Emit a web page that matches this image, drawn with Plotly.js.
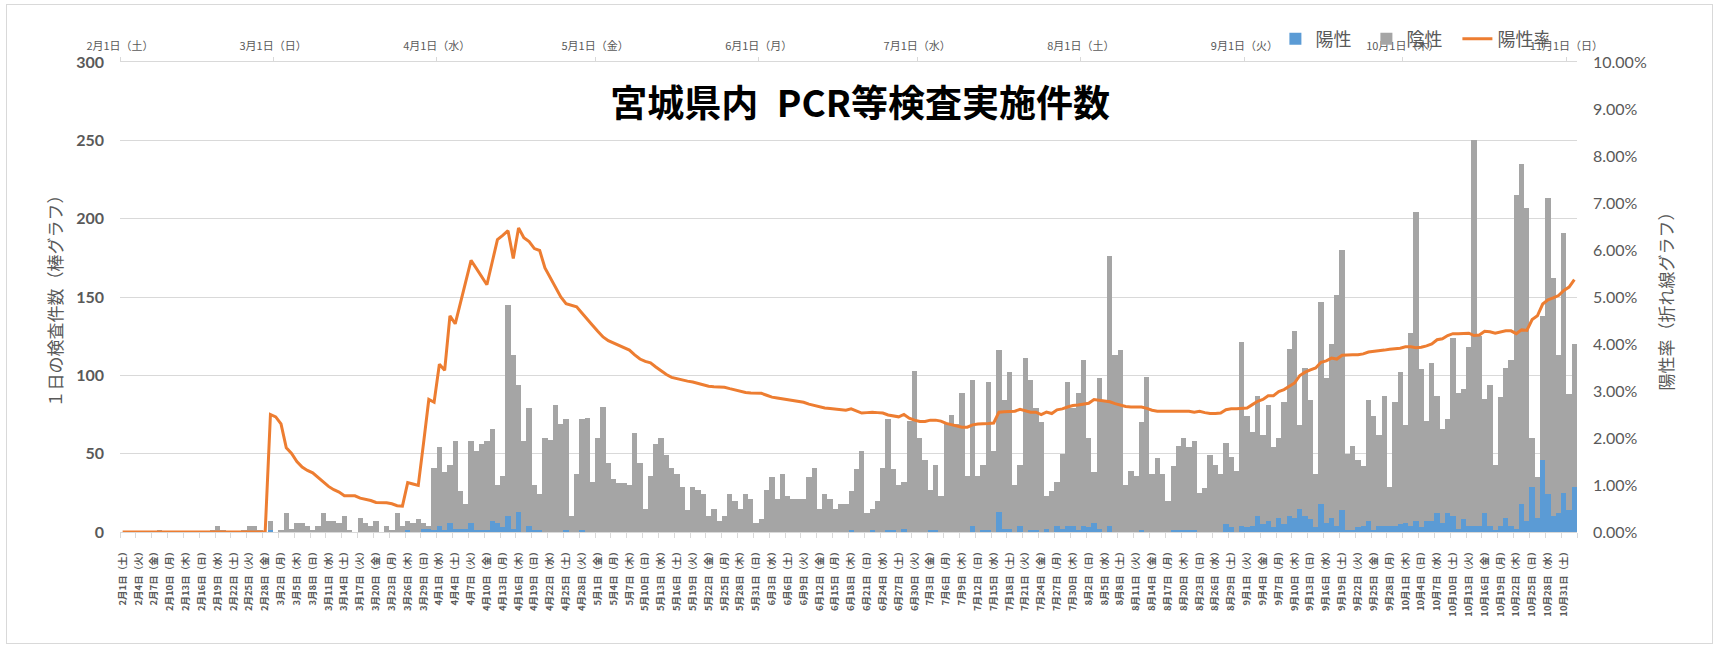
<!DOCTYPE html>
<html>
<head>
<meta charset="utf-8">
<script src="https://cdn.plot.ly/plotly-3.0.1.min.js"></script>
<style>
html,body{margin:0;padding:0;background:#fff;}
#chart{width:1718px;height:646px;position:absolute;left:0;top:0;}
#frame{position:absolute;left:6px;top:4px;width:1705px;height:638px;border:1px solid #d9d9d9;pointer-events:none;}
</style>
</head>
<body>
<div id="chart"></div>
<div id="frame"></div>
<script>
// ---- data (one value per day, 2020-02-01 .. 2020-11-02) ----
const startDate = [2020, 1, 1];   // year, month index, day
const dayCount = 276;

// 陽性 (positive tests per day)
const positives = [
  0,0,0,0,0,0,0,0,0,0,
  0,0,0,0,0,0,0,0,0,0,
  0,0,0,0,0,0,0,0,1,0,
  0,0,0,0,0,0,0,0,0,0,
  0,0,0,0,0,0,0,0,0,0,
  0,0,0,0,1,0,0,2,2,1,
  4,1,6,2,2,2,6,1,1,1,
  7,6,3,10,2,13,0,4,1,1,
  0,0,0,0,1,0,0,1,0,0,
  0,0,0,0,0,0,0,0,0,0,
  0,0,0,0,0,0,0,0,0,0,
  0,0,0,0,0,0,0,0,0,0,
  0,0,0,0,0,0,0,0,0,0,
  0,0,0,0,0,0,0,0,1,0,
  0,0,1,0,0,1,1,0,2,0,
  0,0,0,1,1,0,0,0,0,0,
  0,4,0,1,1,0,13,2,2,0,
  4,0,1,1,0,2,0,4,2,4,
  4,1,4,3,6,2,0,4,0,0,
  0,0,0,1,0,0,0,0,0,1,
  1,1,1,1,0,0,0,0,0,5,
  3,0,4,3,4,10,5,7,3,9,
  5,10,9,15,10,8,3,18,6,9,
  4,14,1,1,3,4,7,1,4,4,
  4,4,5,6,4,7,3,7,7,12,
  6,12,10,2,8,4,4,4,12,4,
  1,4,9,4,2,18,7,29,9,46,
  24,10,12,25,14,29
];

// 陰性 (negative tests per day)
const negatives = [
  0,0,0,0,0,0,0,1,0,0,
  0,0,0,0,0,0,0,1,4,1,
  0,0,0,1,4,4,1,0,6,0,
  1,12,2,6,6,4,1,4,12,7,
  7,6,10,1,0,9,6,4,7,0,
  4,1,12,4,6,6,8,4,2,40,
  50,37,37,56,24,16,52,51,55,57,
  59,24,33,135,111,81,58,75,29,23,
  60,59,81,69,71,10,37,71,73,32,
  60,80,44,34,31,31,30,63,44,15,
  36,56,60,49,41,37,29,14,29,27,
  24,10,15,7,10,24,20,15,24,21,
  6,8,27,35,21,37,23,21,21,21,
  35,41,15,24,21,15,18,18,25,40,
  52,12,14,20,41,71,39,30,30,71,
  103,60,46,26,42,23,69,75,69,89,
  36,93,36,42,95,52,103,82,100,30,
  39,111,96,78,70,21,26,28,48,92,
  75,88,106,57,32,96,84,172,113,116,
  30,39,36,69,99,37,47,37,20,41,
  54,59,53,57,25,28,49,43,37,52,
  45,39,117,71,60,77,57,74,51,51,
  78,107,119,53,95,76,34,129,92,111,
  147,166,49,54,43,38,77,73,58,83,
  25,79,97,62,123,197,101,64,101,75,
  60,60,114,87,83,114,246,121,73,90,
  42,82,96,106,213,217,200,31,26,92,
  189,152,101,166,74,91
];

// 陽性率 (cumulative positive rate, %)
const positiveRate = [
  0,0,0,0,0,0,0,0,0,0,
  0,0,0,0,0,0,0,0,0,0,
  0,0,0,0,0,0,0,0,2.50,2.45,
  2.30,1.79,1.67,1.50,1.38,1.31,1.26,1.16,1.06,0.97,
  0.90,0.85,0.77,0.77,0.77,0.72,0.70,0.67,0.63,0.63,
  0.62,0.60,0.56,0.55,1.05,1.02,0.99,1.89,2.82,2.76,
  3.57,3.44,4.60,4.43,4.89,5.33,5.78,5.61,5.44,5.26,
  5.74,6.22,6.31,6.41,5.82,6.47,6.26,6.18,6.03,5.99,
  5.62,5.42,5.23,5.00,4.86,4.83,4.79,4.66,4.52,4.40,
  4.27,4.15,4.07,4.02,3.97,3.91,3.87,3.77,3.68,3.63,
  3.60,3.51,3.42,3.35,3.29,3.26,3.23,3.21,3.19,3.16,
  3.12,3.10,3.09,3.08,3.08,3.05,3.02,3.00,2.97,2.96,
  2.96,2.95,2.91,2.87,2.85,2.83,2.81,2.79,2.77,2.76,
  2.72,2.69,2.66,2.64,2.63,2.62,2.60,2.59,2.62,2.57,
  2.53,2.54,2.55,2.54,2.53,2.49,2.47,2.45,2.50,2.42,
  2.38,2.35,2.35,2.38,2.38,2.36,2.31,2.28,2.25,2.23,
  2.23,2.28,2.30,2.30,2.31,2.32,2.55,2.56,2.56,2.57,
  2.61,2.58,2.55,2.55,2.50,2.55,2.52,2.60,2.62,2.66,
  2.69,2.70,2.72,2.74,2.82,2.80,2.78,2.77,2.73,2.70,
  2.67,2.66,2.66,2.66,2.63,2.59,2.57,2.57,2.57,2.57,
  2.57,2.57,2.57,2.55,2.57,2.54,2.52,2.52,2.53,2.60,
  2.62,2.62,2.63,2.64,2.71,2.78,2.82,2.90,2.90,2.99,
  3.03,3.10,3.17,3.33,3.40,3.45,3.49,3.61,3.64,3.70,
  3.68,3.76,3.77,3.77,3.77,3.79,3.83,3.84,3.86,3.87,
  3.89,3.90,3.91,3.94,3.94,3.92,3.93,3.96,4.00,4.09,
  4.11,4.18,4.22,4.22,4.23,4.23,4.18,4.19,4.27,4.26,
  4.23,4.25,4.28,4.28,4.22,4.30,4.29,4.52,4.60,4.85,
  4.94,4.98,5.03,5.14,5.21,5.37
];

// top axis: month starts
const monthStarts = ['2020-02-01','2020-03-01','2020-04-01','2020-05-01','2020-06-01',
                     '2020-07-01','2020-08-01','2020-09-01','2020-10-01','2020-11-01'];
const weekdayNames = ['日','月','火','水','木','金','土'];
const seriesNames = ['陽性','陰性','陽性率'];
const chartTitle = '宮城県内\u2002PCR等検査実施件数';
const leftTitle = '１日の検査件数（棒グラフ）';
const rightTitle = '陽性率（折れ線グラフ）';

// ---- categories (days) ----
function pad(n){return (n<10?'0':'')+n;}
function isoOf(d){return d.getUTCFullYear()+'-'+pad(d.getUTCMonth()+1)+'-'+pad(d.getUTCDate());}
const dayIndex = [], dayMid = [], dayLabel = [];
for (let i = 0; i < dayCount; i++) {
  const d = new Date(Date.UTC(startDate[0], startDate[1], startDate[2] + i));
  dayIndex.push(i);
  dayMid.push(isoOf(d) + ' 12:00');
  dayLabel.push((d.getUTCMonth()+1)+'月'+d.getUTCDate()+'日（'+weekdayNames[d.getUTCDay()]+'）');
}
const labelVals = [], labelText = [];
for (let i = 0; i < dayCount - 2; i += 3) { labelVals.push(i); labelText.push(dayLabel[i]); }
const monthText = monthStarts.map(s => {
  const p = s.split('-').map(Number);
  const d = new Date(Date.UTC(p[0], p[1]-1, p[2]));
  return p[1]+'月'+p[2]+'日（'+weekdayNames[d.getUTCDay()]+'）';
});
const firstDay = isoOf(new Date(Date.UTC(startDate[0], startDate[1], startDate[2])));
const endDay = isoOf(new Date(Date.UTC(startDate[0], startDate[1], startDate[2] + dayCount)));

const CJK = '"Noto Sans CJK JP", "Noto Sans", sans-serif';
const NUM = 'Lato, "Noto Sans", sans-serif';
const GREY_TXT = '#595959';

const traces = [
  {type:'bar', name: seriesNames[0], x: dayIndex, y: positives, marker:{color:'#5B9BD5', line:{width:0}}, xaxis:'x', yaxis:'y'},
  {type:'bar', name: seriesNames[1], x: dayIndex, y: negatives, marker:{color:'#A5A5A5', line:{width:0}}, xaxis:'x', yaxis:'y'},
  {type:'scatter', mode:'lines', name: seriesNames[2], x: dayMid, y: positiveRate, line:{color:'#ED7D31', width:3}, xaxis:'x2', yaxis:'y2'}
];

const layout = {
  width: 1718, height: 646,
  margin: {l: 120, r: 141, t: 62, b: 114, pad: 0},
  paper_bgcolor: 'rgba(0,0,0,0)', plot_bgcolor: 'rgba(0,0,0,0)',
  barmode: 'stack', bargap: 0,
  showlegend: true,
  font: {family: CJK, color: GREY_TXT},
  title: {text: chartTitle, font: {family: CJK, size: 37, color: '#000', weight: 'bold'},
          x: 0.508, xref: 'paper', xanchor: 'center', y: 1 - 104/646, yref: 'container', yanchor: 'middle'},
  xaxis: {type: 'linear', range: [-0.5, dayCount - 0.5], tickmode: 'array', tickvals: labelVals, ticktext: labelText,
          tickangle: -90, tickfont: {size: 9.5, family: CJK, color: GREY_TXT, weight: 'bold'},
          ticks: '', ticklabelstandoff: 10, showgrid: false, zeroline: false,
          showline: true, linecolor: '#d9d9d9', linewidth: 1,
          minor: {tick0: -0.5, dtick: 3, ticks: 'outside', ticklen: 5, tickcolor: '#d9d9d9', showgrid: false},
          fixedrange: true},
  xaxis2: {type: 'date', overlaying: 'x', side: 'top', anchor: 'y', range: [firstDay, endDay],
           tickmode: 'array', tickvals: monthStarts, ticktext: monthText,
           tickfont: {size: 11, family: CJK, color: GREY_TXT}, ticks: 'outside', ticklen: 4, tickcolor: '#d9d9d9',
           ticklabelstandoff: 3, showline: true, linecolor: '#d9d9d9', linewidth: 1, showgrid: false, zeroline: false, fixedrange: true},
  yaxis: {range: [0, 300], dtick: 50, tickfont: {size: 16, family: NUM, color: GREY_TXT, weight: 'bold'},
          gridcolor: '#d9d9d9', gridwidth: 1, zeroline: false, showline: false, ticks: '', ticklabelstandoff: 15,
          title: {text: leftTitle, font: {size: 17, family: CJK, color: GREY_TXT}, standoff: 9}, fixedrange: true},
  yaxis2: {overlaying: 'y', side: 'right', anchor: 'x', range: [0, 10], dtick: 1, tickformat: '.2f', ticksuffix: '%',
           tickfont: {size: 16, family: NUM, color: GREY_TXT}, showgrid: false, zeroline: false, showline: false,
           ticks: '', ticklabelstandoff: 15,
           title: {text: rightTitle, font: {size: 17, family: CJK, color: GREY_TXT}, standoff: 15}, fixedrange: true},
  legend: {orientation: 'h', x: 0.793, xanchor: 'left', y: 1.049, yanchor: 'middle', yref: 'paper',
           font: {size: 18, family: CJK, color: GREY_TXT}, traceorder: 'normal', bgcolor: 'rgba(0,0,0,0)',
           entrywidth: 46}
};

Plotly.newPlot('chart', traces, layout, {displayModeBar: false, staticPlot: true});
</script>
</body>
</html>
